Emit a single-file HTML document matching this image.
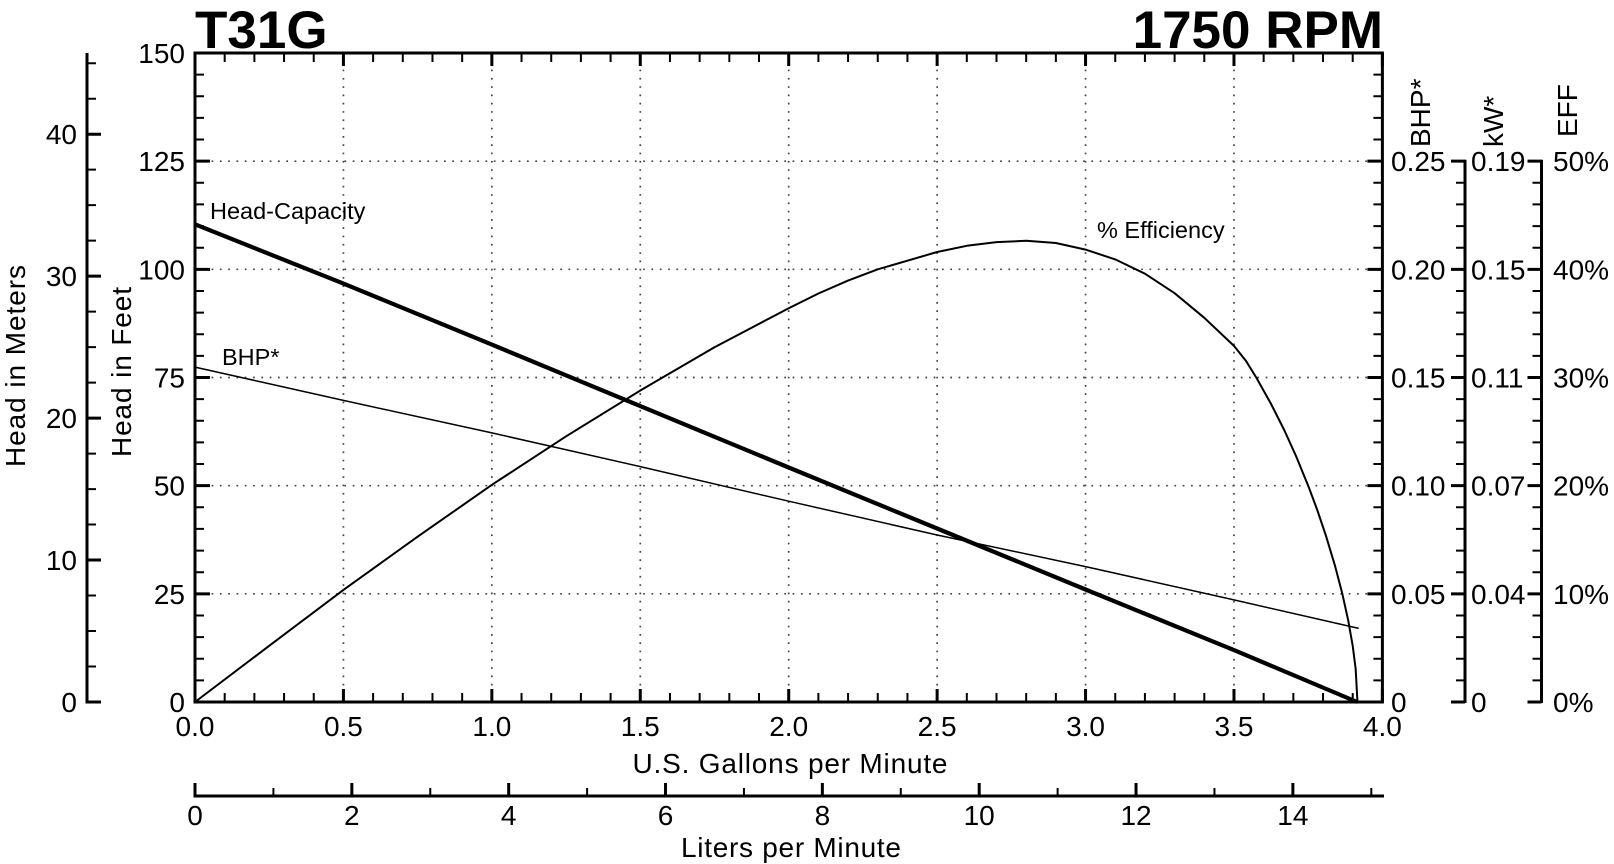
<!DOCTYPE html>
<html>
<head>
<meta charset="utf-8">
<style>
  html, body { margin: 0; padding: 0; background: #fff; }
  body { width: 1614px; height: 864px; overflow: hidden; }
  svg { display: block; }
  text { font-family: "Liberation Sans", Arial, sans-serif; fill: #000; }
</style>
</head>
<body>
<svg width="1614" height="864" viewBox="0 0 1614 864" xmlns="http://www.w3.org/2000/svg">
  <rect x="0" y="0" width="1614" height="864" fill="#fff"/>

  <!-- Titles -->
  <text x="195" y="48" font-size="53" font-weight="bold">T31G</text>
  <text x="1383" y="48" font-size="53" font-weight="bold" text-anchor="end">1750 RPM</text>

  <!-- Grid (dotted) -->
  <g stroke="#444" stroke-width="1.7" stroke-dasharray="1.7 6.6" fill="none">
    <line x1="195" y1="161.17" x2="1382.4" y2="161.17"/>
    <line x1="195" y1="269.33" x2="1382.4" y2="269.33"/>
    <line x1="195" y1="377.5" x2="1382.4" y2="377.5"/>
    <line x1="195" y1="485.67" x2="1382.4" y2="485.67"/>
    <line x1="195" y1="593.83" x2="1382.4" y2="593.83"/>
    <line x1="343.43" y1="53" x2="343.43" y2="702"/>
    <line x1="491.85" y1="53" x2="491.85" y2="702"/>
    <line x1="640.28" y1="53" x2="640.28" y2="702"/>
    <line x1="788.7" y1="53" x2="788.7" y2="702"/>
    <line x1="937.13" y1="53" x2="937.13" y2="702"/>
    <line x1="1085.55" y1="53" x2="1085.55" y2="702"/>
    <line x1="1233.98" y1="53" x2="1233.98" y2="702"/>
  </g>

  <!-- Main frame -->
  <rect x="195" y="53" width="1187.4" height="649" fill="none" stroke="#000" stroke-width="3"/>

  <!-- Main frame ticks -->
  <g stroke="#000" fill="none">
    <line x1="199.5" y1="703" x2="199.5" y2="52" stroke-width="9" stroke-dasharray="2 19.6333"/>
    <line x1="202.5" y1="703.5" x2="202.5" y2="52" stroke-width="15" stroke-dasharray="3 105.1667"/>
    <line x1="1377.9" y1="703" x2="1377.9" y2="52" stroke-width="9" stroke-dasharray="2 19.6333"/>
    <line x1="1374.9" y1="703.5" x2="1374.9" y2="52" stroke-width="15" stroke-dasharray="3 105.1667"/>
    <line x1="194" y1="697.5" x2="1384" y2="697.5" stroke-width="9" stroke-dasharray="2 27.685"/>
    <line x1="193.5" y1="695.5" x2="1384" y2="695.5" stroke-width="13" stroke-dasharray="3 145.425"/>
    <line x1="194" y1="57.5" x2="1384" y2="57.5" stroke-width="9" stroke-dasharray="2 27.685"/>
    <line x1="193.5" y1="59.5" x2="1384" y2="59.5" stroke-width="13" stroke-dasharray="3 145.425"/>
  </g>

  <!-- Meters axis -->
  <g stroke="#000" fill="none">
    <line x1="87" y1="53" x2="87" y2="703.5" stroke-width="3"/>
    <line x1="91.5" y1="703" x2="91.5" y2="53" stroke-width="9" stroke-dasharray="2 33.488"/>
    <line x1="94" y1="703.5" x2="94" y2="53" stroke-width="14" stroke-dasharray="3 138.952"/>
  </g>

  <!-- kW axis -->
  <g stroke="#000" fill="none">
    <line x1="1465" y1="159.7" x2="1465" y2="703" stroke-width="3"/>
    <line x1="1460.5" y1="703" x2="1460.5" y2="159" stroke-width="9" stroke-dasharray="2 19.6333"/>
    <line x1="1458" y1="703.5" x2="1458" y2="159" stroke-width="14" stroke-dasharray="3 105.1667"/>
  </g>

  <!-- EFF axis -->
  <g stroke="#000" fill="none">
    <line x1="1541.5" y1="159.7" x2="1541.5" y2="703" stroke-width="3"/>
    <line x1="1537" y1="703" x2="1537" y2="159" stroke-width="9" stroke-dasharray="2 19.6333"/>
    <line x1="1534.5" y1="703.5" x2="1534.5" y2="159" stroke-width="14" stroke-dasharray="3 105.1667"/>
  </g>

  <!-- Liters axis -->
  <g stroke="#000" fill="none">
    <line x1="193.5" y1="796" x2="1384" y2="796" stroke-width="3"/>
    <line x1="194" y1="792" x2="1384" y2="792" stroke-width="8" stroke-dasharray="2 76.42"/>
    <line x1="193.5" y1="789.5" x2="1384" y2="789.5" stroke-width="13" stroke-dasharray="3 153.84"/>
  </g>

  <!-- Curves -->
  <polyline fill="none" stroke="#000" stroke-width="2" stroke-linejoin="round"
    points="195,702 269.2,645.8 343.4,589.9 417.6,536.7 491.9,484.8 566.1,436.3 640.3,390.5 714.5,347.2 788.7,308.3 818.39,293.5 848.07,280.6 877.76,269.3 907.44,260.7 937.13,252.0 966.81,245.8 996.5,242.1 1026.18,240.8 1055.87,243.0 1085.55,249.6 1115.24,259.4 1144.92,273.7 1174.61,293.2 1204.29,317.8 1233.98,345.9 1245.85,360.7 1256.24,377.5 1271.08,404.0 1284.44,430.5 1296.31,456.7 1308.19,485.7 1317.09,509.5 1326.0,535.9 1334.9,565.4 1342.33,593.8 1348.26,620.7 1352.72,645.9 1355.68,669.1 1357.46,702"/>
  <polyline fill="none" stroke="#000" stroke-width="1.5" stroke-linejoin="round"
    points="195,367.1 343.4,400.4 491.9,432.9 640.3,466.6 788.7,501.2 937.1,535.0 1085.6,566.6 1234.0,599.9 1358.7,628.4"/>
  <polyline fill="none" stroke="#000" stroke-width="4.2" stroke-linejoin="round"
    points="195,224.3 343.43,283.6 491.85,344.6 640.28,406.1 788.7,467.5 937.13,528.5 1085.55,589.5 1233.98,650.1 1357.17,702"/>

  <!-- Curve annotations -->
  <text x="210" y="219" font-size="23.5">Head-Capacity</text>
  <text x="222" y="365" font-size="23.5">BHP*</text>
  <text x="1097" y="238" font-size="23.5">% Efficiency</text>

  <!-- Left feet labels -->
  <g font-size="28" text-anchor="end">
    <text x="185" y="63">150</text>
    <text x="185" y="171.2">125</text>
    <text x="185" y="279.3">100</text>
    <text x="185" y="387.5">75</text>
    <text x="185" y="495.7">50</text>
    <text x="185" y="603.8">25</text>
    <text x="185" y="712">0</text>
  </g>

  <!-- Meters labels -->
  <g font-size="28" text-anchor="end">
    <text x="77" y="712">0</text>
    <text x="77" y="570.1">10</text>
    <text x="77" y="428.1">20</text>
    <text x="77" y="286.2">30</text>
    <text x="77" y="144.2">40</text>
  </g>

  <!-- GPM labels -->
  <g font-size="28" text-anchor="middle">
    <text x="195" y="736">0.0</text>
    <text x="343.43" y="736">0.5</text>
    <text x="491.85" y="736">1.0</text>
    <text x="640.28" y="736">1.5</text>
    <text x="788.7" y="736">2.0</text>
    <text x="937.13" y="736">2.5</text>
    <text x="1085.55" y="736">3.0</text>
    <text x="1233.98" y="736">3.5</text>
    <text x="1382.4" y="736">4.0</text>
  </g>

  <!-- Liters labels -->
  <g font-size="28" text-anchor="middle">
    <text x="195" y="825">0</text>
    <text x="351.84" y="825">2</text>
    <text x="508.68" y="825">4</text>
    <text x="665.52" y="825">6</text>
    <text x="822.36" y="825">8</text>
    <text x="979.2" y="825">10</text>
    <text x="1136.04" y="825">12</text>
    <text x="1292.88" y="825">14</text>
  </g>

  <!-- BHP labels -->
  <g font-size="28">
    <text x="1391" y="171.2">0.25</text>
    <text x="1391" y="279.3">0.20</text>
    <text x="1391" y="387.5">0.15</text>
    <text x="1391" y="495.7">0.10</text>
    <text x="1391" y="603.8">0.05</text>
    <text x="1391" y="712">0</text>
  </g>
  <!-- kW labels -->
  <g font-size="28">
    <text x="1471" y="171.2">0.19</text>
    <text x="1471" y="279.3">0.15</text>
    <text x="1471" y="387.5">0.11</text>
    <text x="1471" y="495.7">0.07</text>
    <text x="1471" y="603.8">0.04</text>
    <text x="1471" y="712">0</text>
  </g>
  <!-- EFF labels -->
  <g font-size="28">
    <text x="1553" y="171.2">50%</text>
    <text x="1553" y="279.3">40%</text>
    <text x="1553" y="387.5">30%</text>
    <text x="1553" y="495.7">20%</text>
    <text x="1553" y="603.8">10%</text>
    <text x="1553" y="712">0%</text>
  </g>

  <!-- Axis titles -->
  <text transform="translate(25,366) rotate(-90)" font-size="28" text-anchor="middle" textLength="202" lengthAdjust="spacing">Head in Meters</text>
  <text transform="translate(131,372) rotate(-90)" font-size="28" text-anchor="middle" textLength="170" lengthAdjust="spacing">Head in Feet</text>
  <text transform="translate(1430,147) rotate(-90)" font-size="28">BHP*</text>
  <text transform="translate(1503,147) rotate(-90)" font-size="28">kW*</text>
  <text transform="translate(1577,137) rotate(-90)" font-size="28">EFF</text>

  <text x="790" y="773" font-size="28" text-anchor="middle" textLength="315" lengthAdjust="spacing">U.S. Gallons per Minute</text>
  <text x="791" y="857" font-size="28" text-anchor="middle" textLength="220" lengthAdjust="spacing">Liters per Minute</text>
</svg>
</body>
</html>
